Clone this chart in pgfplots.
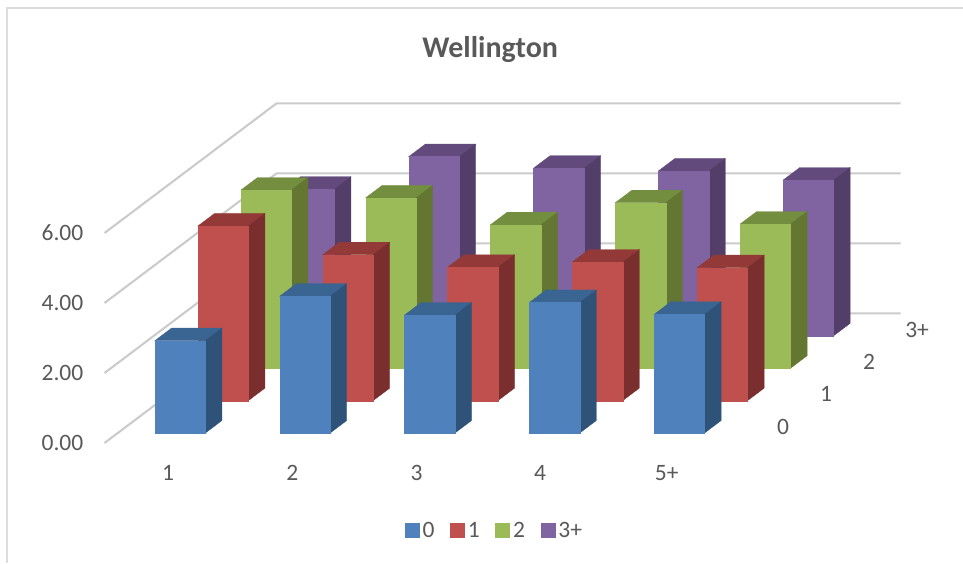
\documentclass[border=0pt]{standalone}
\usepackage{fontspec}
\setmainfont{Carlito}
\usepackage{pgfplots}
\pgfplotsset{compat=1.18}

\definecolor{txt}{HTML}{595959}
\definecolor{gridc}{HTML}{CBCBCB}
\definecolor{frame}{HTML}{DDDDDD}
\definecolor{blueF}{HTML}{4F81BD}\definecolor{blueT}{HTML}{3A6592}\definecolor{blueS}{HTML}{2F5279}
\definecolor{redF}{HTML}{C0504D}\definecolor{redT}{HTML}{933A38}\definecolor{redS}{HTML}{7A2E2D}
\definecolor{greenF}{HTML}{9BBB59}\definecolor{greenT}{HTML}{738E3F}\definecolor{greenS}{HTML}{637733}
\definecolor{purpleF}{HTML}{8064A2}\definecolor{purpleT}{HTML}{624B7C}\definecolor{purpleS}{HTML}{523E68}

% One 3-D column: category index, row index, value, colour stem
\newcommand\column[4]{%
  \pgfmathsetmacro\xa{#1+0.298}\pgfmathsetmacro\xb{#1+0.702}%
  \pgfmathsetmacro\ya{#2+0.307}\pgfmathsetmacro\yb{#2+0.693}%
  \edef\faces{%
    \noexpand\addplot3[forget plot,fill=#4T,draw=#4T,line width=0.3pt] coordinates {(\xa,\ya,#3) (\xb,\ya,#3) (\xb,\yb,#3) (\xa,\yb,#3)} --cycle;
    \noexpand\addplot3[forget plot,fill=#4S,draw=#4S,line width=0.3pt] coordinates {(\xb,\ya,0) (\xb,\yb,0) (\xb,\yb,#3) (\xb,\ya,#3)} --cycle;
    \noexpand\addplot3[forget plot,fill=#4F,draw=#4F,line width=0.3pt] coordinates {(\xa,\ya,0) (\xb,\ya,0) (\xb,\ya,#3) (\xa,\ya,#3)} --cycle;
  }\faces}

% Value gridline running along the side wall and the back wall
\newcommand\wallline[1]{%
  \addplot3[forget plot,gridc,line width=2.1pt,line join=round] coordinates {(0,0,#1) (0,4,#1) (5,4,#1)};}

\begin{document}
\begin{tikzpicture}[x=1pt,y=1pt]
  \path[use as bounding box] (0,0) rectangle (963,563);
  \draw[frame,line width=1.8pt] (7,0) -- (7,555) -- (963,555);
  \begin{axis}[
    at={(104.5pt,120pt)}, anchor=origin,
    x={(124.8pt,0pt)}, y={(43pt,32.4pt)}, z={(0pt,35pt)},
    xmin=0, xmax=5, ymin=0, ymax=4, zmin=0, zmax=6,
    axis lines=none, clip=false,
    legend columns=4,
    legend image code/.code={\fill[#1] (0pt,-7pt) rectangle (14pt,7pt);},
    legend style={draw=none,fill=none,at={(axis cs:3.13,0,-2.5)},anchor=center,
      font=\fontsize{23.5}{25}\selectfont,text=txt,
      /tikz/every even column/.append style={column sep=12pt},
      nodes={inner xsep=3.5pt,inner ysep=0pt}},
  ]
    \wallline{0}\wallline{2}\wallline{4}\wallline{6}

    % row 3+
    \column{0}{3}{4.19}{purple}\column{1}{3}{5.12}{purple}\column{2}{3}{4.79}{purple}\column{3}{3}{4.71}{purple}\column{4}{3}{4.45}{purple}
    % row 2
    \column{0}{2}{5.09}{green}\column{1}{2}{4.87}{green}\column{2}{2}{4.10}{green}\column{3}{2}{4.73}{green}\column{4}{2}{4.12}{green}
    % row 1
    \column{0}{1}{4.99}{red}\column{1}{1}{4.17}{red}\column{2}{1}{3.81}{red}\column{3}{1}{3.96}{red}\column{4}{1}{3.80}{red}
    % row 0
    \column{0}{0}{2.64}{blue}\column{1}{0}{3.91}{blue}\column{2}{0}{3.37}{blue}\column{3}{0}{3.73}{blue}\column{4}{0}{3.39}{blue}

    \addlegendimage{blueF}\addlegendimage{redF}\addlegendimage{greenF}\addlegendimage{purpleF}
    \legend{0,1,2,3+}

    \begin{scope}[every node/.style={text=txt,font=\fontsize{23.5}{25}\selectfont}]
      % value labels
      \node at (axis cs:-0.337,0,0) {0.00};
      \node at (axis cs:-0.337,0,2) {2.00};
      \node at (axis cs:-0.337,0,4) {4.00};
      \node at (axis cs:-0.337,0,6) {6.00};
      % category labels
      \node at (axis cs:0.51,0,-0.857) {1};
      \node at (axis cs:1.505,0,-0.857) {2};
      \node at (axis cs:2.5,0,-0.857) {3};
      \node at (axis cs:3.49,0,-0.857) {4};
      \node at (axis cs:4.505,0,-0.857) {5+};
      % row labels
      \node at (axis cs:5.265,0.5,0) {0};
      \node at (axis cs:5.265,1.5,0) {1};
      \node at (axis cs:5.265,2.5,0) {2};
      \node at (axis cs:5.305,3.5,0) {3+};
      % title
      \node[font=\fontsize{30}{32}\selectfont\bfseries] at (axis cs:3.09,0,11.25) {Wellington};
    \end{scope}
  \end{axis}
\end{tikzpicture}
\end{document}
